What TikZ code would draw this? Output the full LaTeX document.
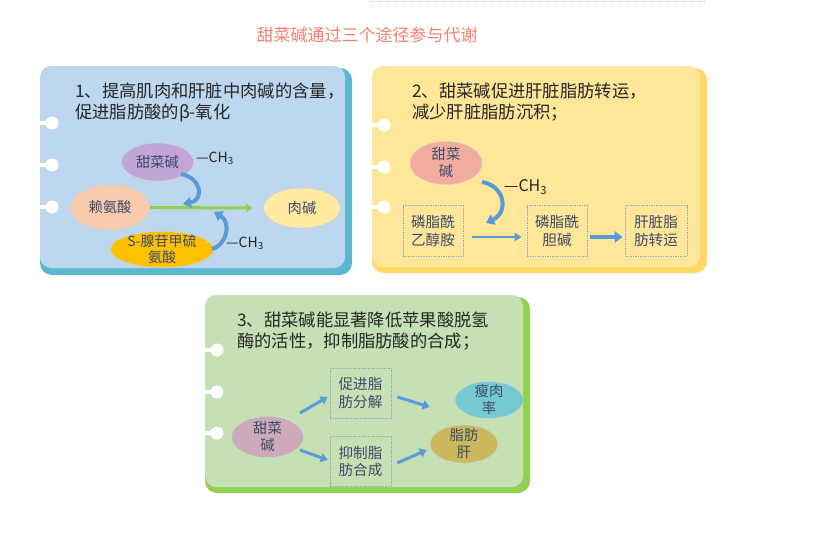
\documentclass[tikz,border=0pt]{standalone}
\usepackage{fontspec}
\setmainfont{Noto Sans CJK SC}
\usetikzlibrary{arrows.meta,shapes.geometric}
\definecolor{titlec}{RGB}{244,128,110}
\definecolor{txt}{RGB}{38,38,38}
\definecolor{ntxt}{RGB}{60,75,105}
\definecolor{bluefill}{RGB}{189,215,238}
\definecolor{blueedge}{RGB}{91,184,208}
\definecolor{yelfill}{RGB}{255,230,153}
\definecolor{yeledge}{RGB}{255,217,102}
\definecolor{grnfill}{RGB}{197,224,180}
\definecolor{grnedge}{RGB}{146,208,80}
\definecolor{arr}{RGB}{91,155,213}
\definecolor{boxedge}{RGB}{150,170,190}
\definecolor{epurple}{RGB}{195,166,216}
\definecolor{epeach}{RGB}{248,203,173}
\definecolor{eyellow}{RGB}{255,234,160}
\definecolor{egold}{RGB}{255,192,0}
\definecolor{esalmon}{RGB}{241,172,158}
\definecolor{emauve}{RGB}{204,170,186}
\definecolor{eteal}{RGB}{116,202,208}
\definecolor{eolive}{RGB}{204,184,92}
\begin{document}
\begin{tikzpicture}[x=1pt,y=-1pt,
  head/.style={anchor=west, align=left, inner sep=0pt, text=txt, font=\fontsize{17.3}{21}\selectfont},
  ell/.style={ellipse, inner xsep=0pt, inner ysep=-4pt, align=center, text=ntxt, font=\fontsize{14.3}{17}\selectfont, draw=gray!35, line width=0.4pt},
  boxn/.style={draw=boxedge, dash pattern=on 1.5pt off 1pt, line width=0.6pt, inner sep=0pt, align=center, text=ntxt, font=\fontsize{14.6}{17.5}\selectfont, minimum width=60pt, minimum height=51pt},
  chl/.style={inner sep=0pt, text=txt, font=\fontsize{14}{16}\selectfont},
  barrow/.style={draw=arr, line width=3pt, -{Triangle[width=9pt,length=7pt]}},
  carrow/.style={draw=arr, line width=4pt, -{Triangle[width=11pt,length=8pt]}},
  hole/.style={white, line width=4pt},
]
\useasboundingbox[fill=white] (0,0) rectangle (821,538);
% top dotted line
\draw[gray!55, dash pattern=on 1pt off 1pt, line width=0.6pt] (370,1.5) -- (706,1.5);
% title
\node[inner sep=0pt, text=titlec, font=\fontsize{17}{20}\selectfont] (title) at (367,35) {甜菜碱通过三个途径参与代谢};

% ---------- card 1 ----------
\fill[blueedge, rounded corners=12pt] (40,68) rectangle (352,275);
\fill[bluefill, rounded corners=11pt] (40,66) rectangle (345,268);
\foreach \yy in {123,165,207} {
  \draw[hole] (40,\yy) -- (52,\yy);
  \fill[white] (52,\yy) circle (6.5);
}
\node[head] (h1) at (75,102) {1、提高肌肉和肝脏中肉碱的含量，\\促进脂肪酸的β-氧化};
\node[ell, fill=epurple, minimum width=72pt, minimum height=38pt] (bet1) at (157.5,162) {甜菜碱};
\node[ell, fill=epeach, minimum width=80pt, minimum height=45pt] (lys) at (110,207.5) {赖氨酸};
\node[ell, fill=eyellow, minimum width=77pt, minimum height=40pt] (carn) at (302,208) {肉碱};
\node[ell, fill=egold, minimum width=103pt, minimum height=36pt, font=\fontsize{14}{16}\selectfont, inner ysep=-5pt] (same) at (162,249.5) {S-腺苷甲硫\\氨酸};
\node[chl, anchor=west] (ch1) at (196,158) {—CH\textsubscript{3}};
\node[chl, anchor=west] (ch2) at (226,243) {—CH\textsubscript{3}};
\draw[draw=grnedge, line width=3pt, -{Triangle[width=8pt,length=6pt]}] (lys.east) -- ([xshift=-11pt]carn.west);
\coordinate (c1s) at (181,174);
\coordinate (c1e) at (183,204);
\draw[carrow] (c1s) .. controls (202,178) and (204,200) .. (c1e);
\coordinate (c2s) at (212,249);
\coordinate (c2e) at (214,212);
\draw[carrow] (c2s) .. controls (228,244) and (231,222) .. (c2e);

% ---------- card 2 ----------
\fill[yeledge, rounded corners=12pt] (372,68) rectangle (707,273);
\fill[yelfill, rounded corners=11pt] (372,66) rectangle (700,267);
\foreach \yy in {125,167,207} {
  \draw[hole] (372,\yy) -- (384,\yy);
  \fill[white] (384,\yy) circle (6.5);
}
\node[head] (h2) at (412,102) {2、甜菜碱促进肝脏脂肪转运，\\减少肝脏脂肪沉积；};
\node[ell, fill=esalmon, minimum width=72pt, minimum height=43pt] (bet2) at (446,163) {甜菜\\碱};
\node[chl, anchor=west, font=\fontsize{16}{18}\selectfont] (ch3) at (504,187) {—CH\textsubscript{3}};
\node[boxn] (pe) at (433,231) {磷脂酰\\乙醇胺};
\node[boxn] (pc) at (557,231) {磷脂酰\\胆碱};
\node[boxn, minimum width=62pt] (lt) at (656,231) {肝脏脂\\肪转运};
\coordinate (c3s) at (482,182);
\coordinate (c3e) at (486,223);
\draw[carrow] (c3s) .. controls (505,186) and (509,212) .. (c3e);
\draw[draw=arr, line width=2.2pt, -{Triangle[width=8pt,length=7pt]}] ([shift={(9,6)}]pe.east) -- ([shift={(-5,6)}]pc.west);
\draw[draw=arr, line width=4.5pt, -{Triangle[width=11pt,length=8pt]}] ([shift={(3,6)}]pc.east) -- ([shift={(-2,6)}]lt.west);

% ---------- card 3 ----------
\fill[grnedge, rounded corners=12pt] (205,297) rectangle (530,493);
\fill[grnfill, rounded corners=11pt] (205,295) rectangle (523,487);
\foreach \yy in {350,392,433} {
  \draw[hole] (205,\yy) -- (217,\yy);
  \fill[white] (217,\yy) circle (6.5);
}
\node[head, font=\fontsize{17.3}{21.5}\selectfont] (h3) at (237,331) {3、甜菜碱能显著降低苹果酸脱氢\\酶的活性，抑制脂肪酸的合成；};
\node[ell, fill=emauve, minimum width=72pt, minimum height=41pt] (bet3) at (267.5,437) {甜菜\\碱};
\node[boxn, minimum width=61pt, minimum height=50pt] (pa) at (360.5,393) {促进脂\\肪分解};
\node[boxn, minimum width=61pt, minimum height=50pt] (pb) at (360.5,461.5) {抑制脂\\肪合成};
\node[ell, fill=eteal, minimum width=68pt, minimum height=37pt] (lean) at (489,400) {瘦肉\\率};
\node[ell, fill=eolive, minimum width=68pt, minimum height=38pt] (fat) at (464,444) {脂肪\\肝};
\draw[barrow] ([shift={(32.5,-24)}]bet3.center) -- ([shift={(-2,4)}]pa.west);
\draw[barrow] ([shift={(32.5,13)}]bet3.center) -- ([shift={(-2,-1.5)}]pb.west);
\draw[barrow] ([shift={(6,4)}]pa.east) -- ([shift={(-25,7)}]lean.west);
\draw[barrow] ([shift={(6,1.5)}]pb.east) -- ([shift={(-3,6)}]fat.west);
\end{tikzpicture}
\end{document}
